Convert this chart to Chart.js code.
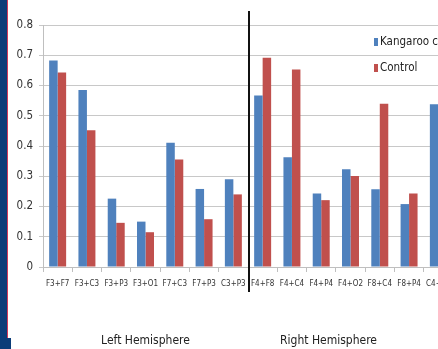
<!DOCTYPE html>
<html>
<head>
<meta charset="utf-8">
<script src="https://cdn.jsdelivr.net/npm/chart.js@4/dist/chart.umd.min.js"></script>
<style>
html,body{margin:0;padding:0;width:438px;height:349px;overflow:hidden;background:#fff;}
#wrap{position:absolute;left:0;top:0;width:462px;height:349px;}
#stripe{position:absolute;left:0;top:0;width:7px;height:338px;background:#0b3c78;z-index:2;}
#redline{position:absolute;left:7px;top:0;width:1px;height:338px;background:#d03a5a;z-index:2;}
#stripe2{position:absolute;left:0;top:338px;width:11px;height:11px;background:#0b3c78;z-index:2;}
</style>
</head>
<body>
<div id="wrap"><canvas id="c" width="462" height="349"></canvas></div>
<div id="stripe"></div><div id="redline"></div><div id="stripe2"></div>
<script>
const categories = ["F3+F7","F3+C3","F3+P3","F3+O1","F7+C3","F7+P3","C3+P3","F4+F8","F4+C4","F4+P4","F4+O2","F8+C4","F8+P4","C4+P4"];
const kangarooCare = [0.683,0.585,0.226,0.150,0.411,0.258,0.290,0.567,0.363,0.243,0.323,0.257,0.208,0.538];
const control      = [0.643,0.452,0.146,0.115,0.355,0.158,0.240,0.692,0.653,0.221,0.301,0.540,0.243,null];
const yTicks = [0,0.1,0.2,0.3,0.4,0.5,0.6,0.7,0.8];
const groupLabels = ["Left Hemisphere","Right Hemisphere"];
const groupCenters = [3, 9.25];
const dividerAfter = 6;

const FONT = "'Liberation Sans Narrow','DejaVu Sans Condensed','Liberation Sans',sans-serif";

const overlay = {
  id:'overlay',
  afterDraw(chart){
    const ctx = chart.ctx, x = chart.scales.x;
    const xd = (x.getPixelForValue(dividerAfter) + x.getPixelForValue(dividerAfter+1))/2;
    ctx.save();
    ctx.strokeStyle = '#111'; ctx.lineWidth = 2;
    ctx.beginPath(); ctx.moveTo(Math.round(xd)+1, 11); ctx.lineTo(Math.round(xd)+1, 292); ctx.stroke();
    ctx.fillStyle = '#222'; ctx.font = "12px " + FONT; ctx.textAlign = 'center'; ctx.textBaseline = 'middle';
    groupLabels.forEach((t,i)=>{ ctx.fillText(t, x.getPixelForValue(groupCenters[i]), 341); });
    ctx.textAlign = 'left'; ctx.font = "11.5px " + FONT;
    const lx = 374, ly = [42, 68];
    chart.data.datasets.forEach((ds,i)=>{
      ctx.fillStyle = ds.backgroundColor;
      ctx.fillRect(lx, ly[i]-4, 4, 8);
      ctx.fillStyle = '#222';
      ctx.fillText(ds.label, lx+6, ly[i]);
    });
    ctx.restore();
  }
};

new Chart(document.getElementById('c'), {
  type:'bar',
  data:{
    labels: categories,
    datasets:[
      {label:'Kangaroo care', data:kangarooCare, backgroundColor:'#4f81bd'},
      {label:'Control', data:control, backgroundColor:'#c0504d'}
    ]
  },
  options:{
    responsive:false, animation:false,
    layout:{padding:{top:25,right:9,left:0,bottom:0}},
    plugins:{legend:{display:false}, tooltip:{enabled:false}},
    datasets:{bar:{barPercentage:1.0, categoryPercentage:0.58}},
    scales:{
      x:{
        grid:{drawOnChartArea:false, drawTicks:true, tickLength:5, color:'#bfbfbf', offset:true},
        border:{color:'#bfbfbf'},
        ticks:{font:{family:FONT,size:8}, color:'#333', maxRotation:0, autoSkip:false, padding:7},
        afterFit(s){ s.height = 82; }
      },
      y:{
        min:0, max:0.8,
        afterBuildTicks(s){ s.ticks = yTicks.map(v=>({value:v})); },
        grid:{color:'#c8c8c8', tickLength:4},
        border:{color:'#bfbfbf'},
        ticks:{font:{family:FONT,size:11.5}, color:'#333', padding:6,
               callback:(v)=> v===0 ? '0' : v.toFixed(1)},
        afterFit(s){ s.width = 43; }
      }
    }
  },
  plugins:[overlay]
});
</script>
</body>
</html>
